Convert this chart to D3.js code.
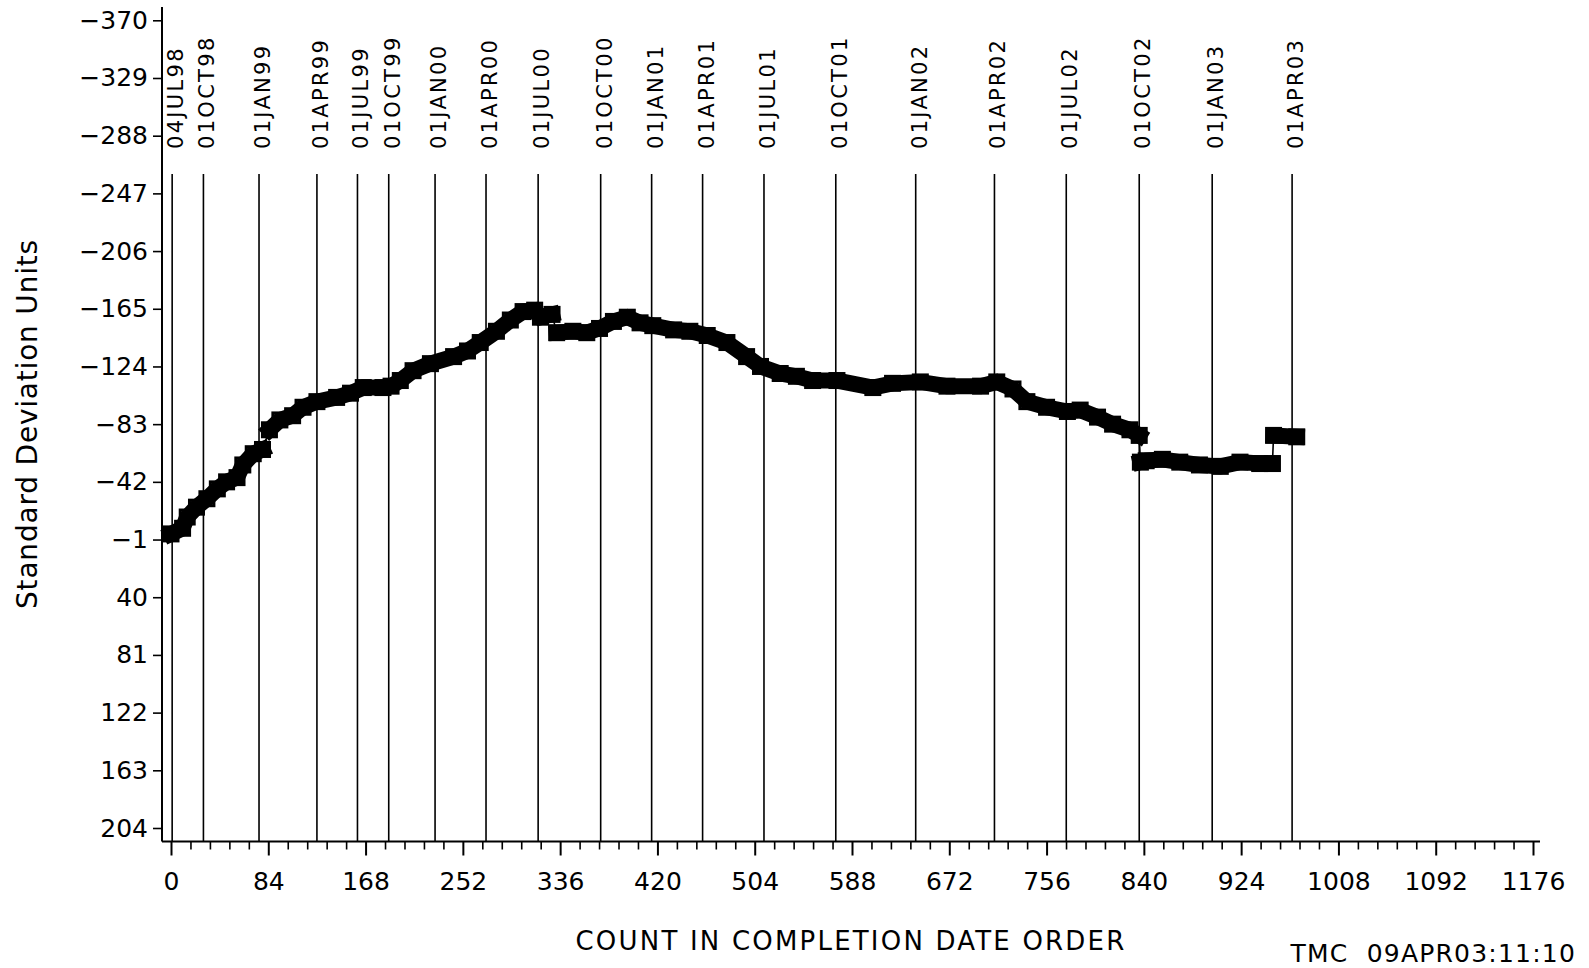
<!DOCTYPE html>
<html>
<head>
<meta charset="utf-8">
<script src="https://cdn.jsdelivr.net/npm/d3@7"></script>
<style>
  body { margin: 0; background: #fff; }
  text { font-family: "DejaVu Sans", sans-serif; fill: #000; }
</style>
</head>
<body>
<div id="chart"></div>
<script>
// cumulative standard deviation units
const counts = [0, 10, 14, 22, 31, 40, 48, 57, 62, 71, 79, 85, 94, 105, 114, 126, 143, 155, 166, 183,
  190, 198, 209, 224, 244, 256, 267, 281, 293, 304, 314, 319, 329, 333, 347, 359, 370, 382, 394, 405,
  416, 434, 448, 463, 480, 497, 509, 526, 540, 554, 575, 606, 623, 647, 670, 699, 713, 727, 739, 756,
  774, 785, 800, 813, 828, 836, 837, 842, 856, 871, 888, 906, 923, 940, 951, 952, 972]
const values = [-5, -9, -17, -24, -30, -37, -42, -45, -54, -62, -65, -79, -86, -89, -95, -99, -102, -105, -109, -109,
  -110, -114, -121, -126, -131, -135, -141, -149, -157, -163, -164, -159, -161, -148, -149, -148, -151, -156, -159, -155,
  -153, -150, -149, -146, -141, -131, -124, -119, -117, -114, -114, -109, -112, -113, -110, -110, -113, -108, -99, -95,
  -92, -93, -88, -83, -79, -75, -56, -57, -58, -56, -54, -53, -56, -55, -55, -75, -74]

// date reference lines
const dateLabels = ["04JUL98", "01OCT98", "01JAN99", "01APR99", "01JUL99", "01OCT99", "01JAN00", "01APR00",
  "01JUL00", "01OCT00", "01JAN01", "01APR01", "01JUL01", "01OCT01", "01JAN02", "01APR02", "01JUL02",
  "01OCT02", "01JAN03", "01APR03"]
const dateCounts = [1, 28, 76, 126, 161, 188, 228, 272, 317, 371, 415, 459, 512, 574, 643, 711, 773, 836, 899, 968]

const yTicks = [-370, -329, -288, -247, -206, -165, -124, -83, -42, -1, 40, 81, 122, 163, 204]
const xTicks = [0, 84, 168, 252, 336, 420, 504, 588, 672, 756, 840, 924, 1008, 1092, 1176]

const WIDTH = 1589
const HEIGHT = 968
const AXIS_X = 162
const AXIS_Y = 841.5

const svg = d3.select("#chart")
  .append("svg")
    .attr("width", WIDTH)
    .attr("height", HEIGHT)

const x = d3.scaleLinear().domain([0, 1176]).range([171, 1533])
const y = d3.scaleLinear().domain([-370, 204]).range([20.3, 828])

// axis lines
svg.append("line")
  .attr("x1", AXIS_X).attr("x2", AXIS_X)
  .attr("y1", 7).attr("y2", AXIS_Y)
  .attr("stroke", "#000").attr("stroke-width", 2)
svg.append("line")
  .attr("x1", AXIS_X).attr("x2", 1540)
  .attr("y1", AXIS_Y).attr("y2", AXIS_Y)
  .attr("stroke", "#000").attr("stroke-width", 2)

// y axis
const yAxis = svg.append("g")
  .attr("transform", `translate(${AXIS_X}, 0)`)
  .call(d3.axisLeft(y).tickValues(yTicks).tickSize(9).tickPadding(5).tickFormat(d3.format("d")))
yAxis.select(".domain").remove()
yAxis.selectAll("line").attr("stroke", "#000").attr("stroke-width", 1.6)
yAxis.selectAll("text").attr("font-size", 25).attr("font-family", "DejaVu Sans")

// x axis, minor then major ticks
const minorTicks = d3.range(0, 1176.01, 16.8).filter(v => Math.abs(v / 84 - Math.round(v / 84)) > 1e-6)
const xMinor = svg.append("g")
  .attr("transform", `translate(0, ${AXIS_Y})`)
  .call(d3.axisBottom(x).tickValues(minorTicks).tickSize(8).tickFormat(""))
xMinor.select(".domain").remove()
xMinor.selectAll("line").attr("stroke", "#000").attr("stroke-width", 1.6)

const xAxis = svg.append("g")
  .attr("transform", `translate(0, ${AXIS_Y})`)
  .call(d3.axisBottom(x).tickValues(xTicks).tickSize(14).tickPadding(17).tickFormat(d3.format("d")))
xAxis.select(".domain").remove()
xAxis.selectAll("line").attr("stroke", "#000").attr("stroke-width", 2)
xAxis.selectAll("text").attr("font-size", 25).attr("font-family", "DejaVu Sans")

// date lines
svg.selectAll(".dateline")
  .data(dateCounts)
  .enter().append("line")
    .attr("class", "dateline")
    .attr("x1", d => x(d)).attr("x2", d => x(d))
    .attr("y1", 174).attr("y2", AXIS_Y)
    .attr("stroke", "#000").attr("stroke-width", 1.6)

svg.selectAll(".datelabel")
  .data(dateCounts)
  .enter().append("text")
    .attr("class", "datelabel")
    .attr("transform", d => `translate(${x(d) + 11}, 149) rotate(-90)`)
    .attr("font-size", 21)
    .attr("letter-spacing", 2.3)
    .text((d, i) => dateLabels[i])

// the series
const pts = counts.map((c, i) => ({ c, v: values[i] }))
const segments = [[]]
pts.forEach((p, i) => {
  if (i > 0 && Math.abs(p.v - pts[i - 1].v) > 12) segments.push([])
  segments[segments.length - 1].push(p)
})

const line = d3.line().x(d => x(d.c)).y(d => y(d.v))

svg.append("path")
  .datum(pts)
  .attr("d", line)
  .attr("fill", "none")
  .attr("stroke", "#000")
  .attr("stroke-width", 1.6)

svg.selectAll(".band")
  .data(segments)
  .enter().append("path")
    .attr("class", "band")
    .attr("d", line)
    .attr("fill", "none")
    .attr("stroke", "#000")
    .attr("stroke-width", 16)
    .attr("stroke-linejoin", "miter")
    .attr("stroke-linecap", "square")

const SQ = 14
svg.selectAll(".marker")
  .data(pts)
  .enter().append("rect")
    .attr("class", "marker")
    .attr("x", d => x(d.c) - SQ / 2)
    .attr("y", d => y(d.v) - SQ / 2)
    .attr("width", SQ)
    .attr("height", SQ)
    .attr("fill", "none")
    .attr("stroke", "#000")
    .attr("stroke-width", 3)

// titles
svg.append("text")
  .attr("transform", "translate(37, 424) rotate(-90)")
  .attr("text-anchor", "middle")
  .attr("font-size", 28)
  .attr("letter-spacing", 0.8)
  .text("Standard Deviation Units")

svg.append("text")
  .attr("x", 851)
  .attr("y", 950)
  .attr("text-anchor", "middle")
  .attr("font-size", 26)
  .attr("letter-spacing", 2.2)
  .text("COUNT IN COMPLETION DATE ORDER")

svg.append("text")
  .attr("x", 1576)
  .attr("y", 962)
  .attr("text-anchor", "end")
  .attr("font-size", 25)
  .attr("letter-spacing", 1.2)
  .style("white-space", "pre")
  .text("TMC  09APR03:11:10")
</script>
</body>
</html>
